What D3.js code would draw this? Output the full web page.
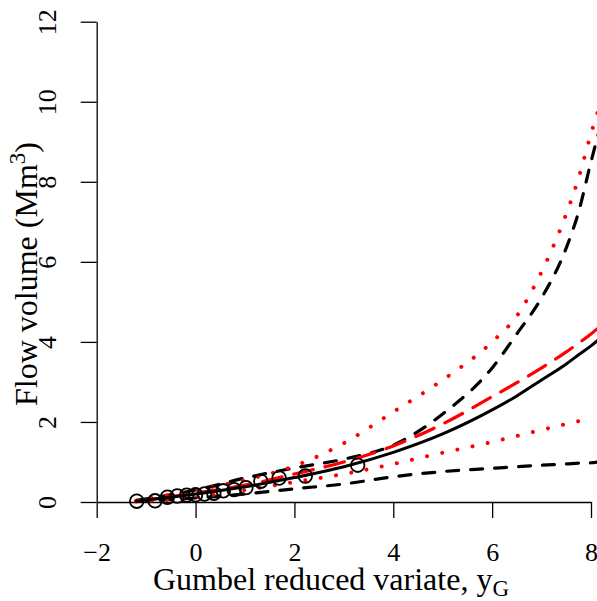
<!DOCTYPE html>
<html>
<head>
<meta charset="utf-8">
<script src="https://cdn.jsdelivr.net/npm/d3@7"></script>
<style>
  body { margin: 0; background: #fff; }
  text { font-family: "Liberation Serif", "DejaVu Serif", serif; fill: #000; }
  .tick text { font-size: 26px; }
</style>
</head>
<body>
<svg id="chart"></svg>
<script>
const obsX = [-1.19, -0.82, -0.57, -0.37, -0.18, 0.00, 0.18, 0.37, 0.56, 0.78, 1.02, 1.32, 1.69, 2.22, 3.28];
const obsY = [0.02, 0.03, 0.12, 0.15, 0.17, 0.18, 0.20, 0.22, 0.28, 0.31, 0.36, 0.52, 0.60, 0.65, 0.92];

// Curves: reduced variate grid and the values of each curve
const curveX = [-1.2, 0, 1, 2, 3, 4, 5, 6, 6.5, 7, 7.5, 7.75, 8, 8.15];
const fitBlack   = [0.02, 0.20, 0.38, 0.61, 0.88, 1.24, 1.70, 2.30, 2.65, 3.05, 3.45, 3.68, 3.90, 4.05];
const upperBlack = [0.04, 0.30, 0.60, 0.85, 1.07, 1.42, 2.20, 3.35, 4.20, 5.10, 6.35, 7.25, 8.50, 9.20];
const lowerBlack = [0.02, 0.10, 0.20, 0.33, 0.45, 0.63, 0.76, 0.84, 0.88, 0.92, 0.95, 0.97, 0.98, 1.00];
const fitRed     = [0.02, 0.22, 0.42, 0.70, 1.00, 1.40, 1.95, 2.63, 2.98, 3.35, 3.75, 3.97, 4.20, 4.35];
const upperRed   = [0.03, 0.30, 0.55, 0.90, 1.47, 2.25, 3.05, 4.00, 4.65, 5.75, 7.20, 8.10, 9.20, 9.80];
const lowerRed   = [0.01, 0.12, 0.30, 0.50, 0.70, 0.95, 1.23, 1.50, 1.65, 1.80, 1.95, 2.02, 2.08, null];

const xTicks = [-2, 0, 2, 4, 6, 8];
const yTicks = [0, 2, 4, 6, 8, 10, 12];

const width = 597, height = 601;
const svg = d3.select('#chart')
    .attr('width', width)
    .attr('height', height);

const xScale = d3.scaleLinear().domain([-2, 8]).range([96.7, 591]);
const yScale = d3.scaleLinear().domain([0, 12]).range([502, 21.7]);

// Axes, R style (no box)
const xAxis = d3.axisBottom(xScale)
    .tickValues(xTicks)
    .tickSize(16)
    .tickSizeOuter(0)
    .tickFormat(d => d < 0 ? '\u2212' + Math.abs(d) : String(d));

const yAxis = d3.axisLeft(yScale)
    .tickValues(yTicks)
    .tickSize(16)
    .tickSizeOuter(0)
    .tickFormat(d => String(d));

const xAxisG = svg.append('g')
    .attr('transform', `translate(0,${yScale(0)})`)
    .call(xAxis)
    .attr('font-family', null)
    .attr('font-size', null);
xAxisG.selectAll('path, line').attr('stroke', '#000').attr('stroke-width', 1.3);
xAxisG.selectAll('text')
    .attr('y', 59)
    .attr('dy', 0);

const yAxisG = svg.append('g')
    .attr('transform', `translate(${xScale(-2)},0)`)
    .call(yAxis)
    .attr('font-family', null)
    .attr('font-size', null);
yAxisG.selectAll('path, line').attr('stroke', '#000').attr('stroke-width', 1.3);
yAxisG.selectAll('text')
    .attr('transform', 'rotate(-90)')
    .attr('x', 0)
    .attr('y', -41)
    .attr('dy', 0)
    .attr('text-anchor', 'middle');

// Axis titles
const xTitle = svg.append('text')
    .attr('x', 331)
    .attr('y', 590)
    .attr('text-anchor', 'middle')
    .style('font-size', '32px');
xTitle.append('tspan').text('Gumbel reduced variate, y');
xTitle.append('tspan')
    .attr('dy', 6)
    .style('font-size', '23px')
    .text('G');

const yTitle = svg.append('text')
    .attr('transform', 'translate(37,274) rotate(-90)')
    .attr('text-anchor', 'middle')
    .style('font-size', '32px');
yTitle.append('tspan').text('Flow volume (Mm');
yTitle.append('tspan')
    .attr('dy', -12)
    .style('font-size', '23px')
    .text('3');
yTitle.append('tspan')
    .attr('dy', 12)
    .text(')');

// Curves
const line = d3.line()
    .defined(d => d != null)
    .x((d, i) => xScale(curveX[i]))
    .y(d => yScale(d))
    .curve(d3.curveMonotoneX);

const curves = [
  {values: lowerBlack, color: '#000', width: 3.2, dash: '12,12'},
  {values: upperBlack, color: '#000', width: 3.2, dash: '12,12'},
  {values: lowerRed,   color: '#ff0000', width: 4, dash: '0.01,15.5'},
  {values: upperRed,   color: '#ff0000', width: 4, dash: '0.01,15.5'},
  {values: fitRed,     color: '#ff0000', width: 3.2, dash: '20,12'},
  {values: fitBlack,   color: '#000', width: 3, dash: null}
];

svg.append('g')
    .selectAll('path')
    .data(curves)
  .join('path')
    .attr('d', d => line(d.values))
    .attr('fill', 'none')
    .attr('stroke', d => d.color)
    .attr('stroke-width', d => d.width)
    .attr('stroke-linecap', 'round')
    .attr('stroke-dasharray', d => d.dash);

// Observed points (open circles)
svg.append('g')
    .selectAll('circle')
    .data(obsX)
  .join('circle')
    .attr('cx', d => xScale(d))
    .attr('cy', (d, i) => yScale(obsY[i]))
    .attr('r', 6.8)
    .attr('fill', 'none')
    .attr('stroke', '#000')
    .attr('stroke-width', 1.8);
</script>
</body>
</html>
